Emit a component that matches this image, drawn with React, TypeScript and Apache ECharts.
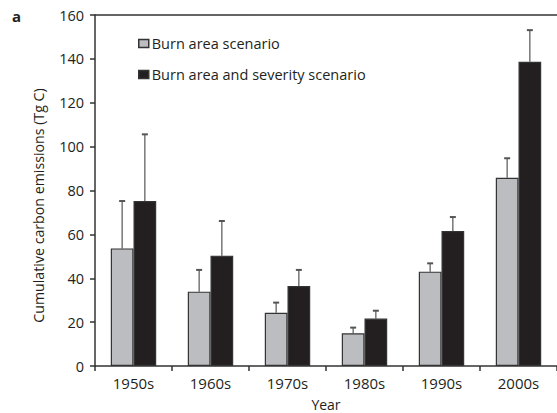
import React, { useEffect, useRef } from "react";
import * as echarts from "echarts";

const categories = ["1950s", "1960s", "1970s", "1980s", "1990s", "2000s"];
const burnArea = [53.6, 33.9, 24.3, 14.9, 43.0, 85.8];
const burnAreaErrTop = [75.2, 43.8, 28.9, 17.5, 46.8, 94.7];
const severity = [75.2, 50.3, 36.5, 21.6, 61.5, 138.7];
const severityErrTop = [105.6, 66.1, 43.8, 25.2, 67.9, 153.1];
const yTicks = [0, 20, 40, 60, 80, 100, 120, 140, 160];

const FONT = "Open Sans";
const TXT = "#231f20";
const GAP = 0.41;

function errSeries(name: string, tops: number[], side: number) {
  return {
    type: "custom",
    name,
    silent: true,
    z: 1,
    data: tops.map((v, i) => [i, v]),
    renderItem: (params: any, api: any) => {
      const idx = api.value(0);
      const top = api.value(1);
      const base = side < 0 ? burnArea[idx] : severity[idx];
      const band = api.size([1, 0])[0];
      const barW = (band * (1 - GAP)) / 2;
      const pTop = api.coord([idx, top]);
      const pBase = api.coord([idx, base]);
      const x = pTop[0] + (side * barW) / 2;
      const cap = 3;
      const style = { stroke: "#555", lineWidth: 1.2 };
      return {
        type: "group",
        children: [
          { type: "line", shape: { x1: x, y1: pTop[1], x2: x, y2: pBase[1] }, style },
          { type: "line", shape: { x1: x - cap, y1: pTop[1], x2: x + cap, y2: pTop[1] }, style: { stroke: "#555", lineWidth: 2 } },
        ],
      };
    },
  };
}

export default function App() {
  const ref = useRef<HTMLDivElement>(null);
  useEffect(() => {
    const chart = echarts.init(ref.current!, null, { renderer: "svg" });
    chart.setOption({
      animation: false,
      textStyle: { fontFamily: FONT, color: TXT },
      grid: { left: 95, right: 0, top: 15, bottom: 47, containLabel: false, outerBoundsMode: "none" },
      legend: {
        orient: "vertical",
        left: 133,
        top: 31,
        itemGap: 16,
        itemWidth: 10,
        itemHeight: 8,
        icon: "rect",
        textStyle: { fontFamily: FONT, fontSize: 14.5, color: TXT, padding: [0, 0, 0, -2] },
        data: [
          { name: "Burn area scenario", itemStyle: { borderColor: "#333", borderWidth: 1.5 } },
          { name: "Burn area and severity scenario", itemStyle: { borderColor: "#333", borderWidth: 1.5 } },
        ],
      },
      xAxis: [
        {
          type: "category",
          data: categories,
          name: "Year",
          nameLocation: "middle",
          nameGap: 31,
          nameTextStyle: { fontFamily: FONT, fontSize: 14, color: TXT },
          axisLine: { lineStyle: { color: "#333", width: 1.5 } },
          axisTick: { show: true, length: 5, lineStyle: { color: "#333", width: 1.5 } },
          axisLabel: { fontFamily: FONT, fontSize: 15, color: TXT, margin: 9 },
        },
        {
          type: "category",
          position: "top",
          data: categories,
          axisLine: { show: true, lineStyle: { color: "#333", width: 1.5 } },
          axisTick: { show: false },
          axisLabel: { show: false },
        },
      ],
      yAxis: {
        type: "value",
        min: 0,
        max: 160,
        interval: 20,
        name: "Cumulative carbon emissions (Tg C)",
        nameLocation: "middle",
        nameGap: 50,
        nameTextStyle: { fontFamily: FONT, fontSize: 14.2, color: TXT, padding: [0, 30, 0, 0] },
        axisLine: { show: true, lineStyle: { color: "#333", width: 1.5 } },
        axisTick: { show: true, length: 5, lineStyle: { color: "#333", width: 1.5 } },
        splitLine: { show: false },
        axisLabel: {
          fontFamily: FONT,
          fontSize: 14.5,
          color: TXT,
          margin: 11,
          formatter: (v: number) => (yTicks.includes(v) ? String(v) : ""),
        },
      },
      series: [
        {
          type: "bar",
          name: "Burn area scenario",
          data: burnArea,
          barGap: "0%",
          barCategoryGap: GAP * 100 + "%",
          itemStyle: { color: "#bcbdc0", borderColor: "#333", borderWidth: 1.2 },
          z: 2,
        },
        {
          type: "bar",
          name: "Burn area and severity scenario",
          data: severity,
          barGap: "0%",
          barCategoryGap: GAP * 100 + "%",
          itemStyle: { color: "#231f20", borderColor: "#333", borderWidth: 1.2 },
          z: 2,
        },
        errSeries("errA", burnAreaErrTop, -1),
        errSeries("errB", severityErrTop, 1),
      ],
      graphic: [
        {
          type: "text",
          left: 12,
          top: 8,
          style: { text: "a", font: "bold 15px " + FONT, fill: TXT },
        },
      ],
    });
    return () => chart.dispose();
  }, []);
  return <div ref={ref} style={{ width: 557, height: 413, position: "absolute", left: 0, top: 0 }} />;
}
